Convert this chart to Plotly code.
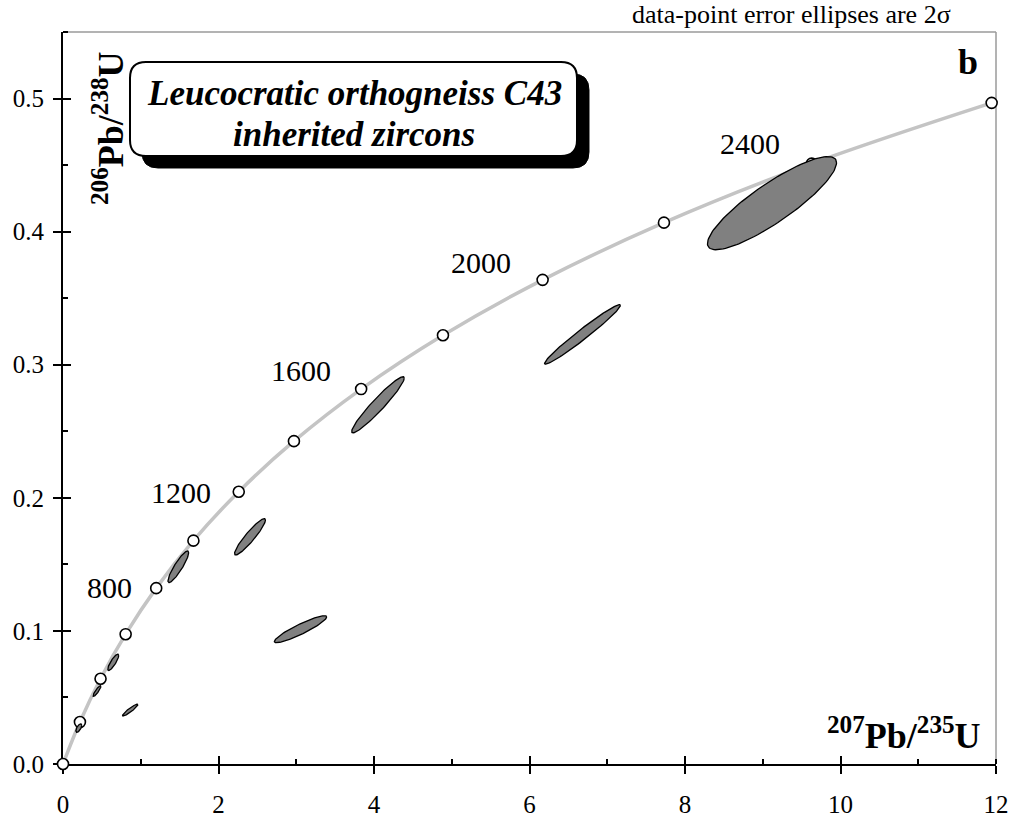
import numpy as np
import plotly.graph_objects as go

# ---------------- data ----------------
ages = [0, 200, 400, 600, 800, 1000, 1200, 1400, 1600, 1800, 2000, 2200, 2400, 2600]
pb207_u235 = [0.0, 0.2177, 0.4828, 0.8056, 1.1987, 1.6774, 2.2603, 2.9701, 3.8345,
              4.8870, 6.1686, 7.7292, 9.6296, 11.944]
pb206_u238 = [0.0, 0.03151, 0.06402, 0.09754, 0.13214, 0.16783, 0.20460, 0.24258,
              0.28172, 0.32212, 0.36376, 0.40674, 0.45108, 0.49676]
label_ages = [800, 1200, 1600, 2000, 2400]

# error ellipses (2 sigma): centre, half-widths, correlation
ell_x = [0.203, 0.437, 0.646, 0.864, 1.483, 2.405, 3.055, 4.051, 6.682, 9.119]
ell_y = [0.0270, 0.0548, 0.0764, 0.0405, 0.1482, 0.1707, 0.1013, 0.2699, 0.3228, 0.4214]
ell_sx = [0.038, 0.0505, 0.0703, 0.0987, 0.1334, 0.1992, 0.3365, 0.338, 0.488, 0.830]
ell_sy = [0.0032, 0.00404, 0.00613, 0.00442, 0.01187, 0.01367, 0.01011, 0.02107, 0.02236, 0.0350]
ell_rho = [0.65, 0.888, 0.844, 0.927, 0.892, 0.926, 0.912, 0.952, 0.977, 0.867]

# ---------------- layout geometry ----------------
W, H = 1014, 819
ML, MR, MT, MB = 63, 18, 32, 55
PW, PH = W - ML - MR, H - MT - MB
FONT = "Liberation Serif"


def px2paper(px, py):
    return (px - ML) / PW, (H - MB - py) / PH


fig = go.Figure()

# concordia curve
fig.add_trace(go.Scatter(
    x=pb207_u235, y=pb206_u238, mode="lines",
    line=dict(color="#c4c4c4", width=3.5, shape="spline", smoothing=1.0),
    hoverinfo="skip", showlegend=False, cliponaxis=False))

# age markers
fig.add_trace(go.Scatter(
    x=pb207_u235, y=pb206_u238, mode="markers",
    marker=dict(size=11, color="white", line=dict(color="black", width=1.6)),
    text=[str(a) for a in ages], hoverinfo="text",
    showlegend=False, cliponaxis=False))

# error ellipses
t = np.linspace(0, 2 * np.pi, 120)
for cx, cy, sx, sy, r in zip(ell_x, ell_y, ell_sx, ell_sy, ell_rho):
    ex = cx + sx * np.cos(t)
    ey = cy + sy * (r * np.cos(t) + np.sqrt(1 - r * r) * np.sin(t))
    fig.add_trace(go.Scatter(
        x=ex, y=ey, mode="lines", fill="toself", fillcolor="#808080",
        line=dict(color="black", width=1.3), hoverinfo="skip",
        showlegend=False))

# dummy trace on overlay axes (crossing ticks)
fig.add_trace(go.Scatter(x=[None], y=[None], xaxis="x2", yaxis="y2",
                         showlegend=False, hoverinfo="skip"))

axis_font = dict(family=FONT, size=25, color="black")
fig.update_layout(
    width=W, height=H,
    margin=dict(l=ML, r=MR, t=MT, b=MB, autoexpand=False),
    paper_bgcolor="white", plot_bgcolor="white",
    showlegend=False,
    xaxis=dict(range=[0, 12], dtick=2, tick0=0, showgrid=False, zeroline=False,
               showline=True, linecolor="black", linewidth=2,
               ticks="outside", ticklen=8, tickwidth=2, tickcolor="black",
               minor=dict(dtick=1, ticks="inside", ticklen=5, tickwidth=1.5,
                          tickcolor="black", showgrid=False),
               tickfont=axis_font, ticklabelstandoff=9, layer="below traces",
               automargin=False, fixedrange=True),
    yaxis=dict(range=[0, 0.55], dtick=0.1, tick0=0, showgrid=False, zeroline=False,
               showline=True, linecolor="black", linewidth=2,
               ticks="outside", ticklen=8, tickwidth=2, tickcolor="black",
               minor=dict(dtick=0.05, ticks="inside", ticklen=5, tickwidth=1.5,
                          tickcolor="black", showgrid=False),
               tickformat=".1f", tickfont=axis_font, ticklabelstandoff=4,
               layer="below traces", automargin=False, fixedrange=True),
    xaxis2=dict(range=[0, 12], dtick=2, tick0=0, overlaying="x", anchor="y",
                showgrid=False, zeroline=False, showline=False,
                ticks="inside", ticklen=8, tickwidth=2, tickcolor="black",
                showticklabels=False, layer="below traces", automargin=False,
                fixedrange=True),
    yaxis2=dict(range=[0, 0.55], dtick=0.1, tick0=0, overlaying="y", anchor="x",
                showgrid=False, zeroline=False, showline=False,
                ticks="inside", ticklen=8, tickwidth=2, tickcolor="black",
                showticklabels=False, layer="below traces", automargin=False,
                fixedrange=True),
)

shapes = []
# grey frame top & right
shapes.append(dict(type="line", xref="paper", yref="paper", x0=0, x1=1, y0=1, y1=1,
                   line=dict(color="#9a9a9a", width=1.5), layer="below"))
shapes.append(dict(type="line", xref="paper", yref="paper", x0=1, x1=1, y0=0, y1=1,
                   line=dict(color="#9a9a9a", width=1.5), layer="below"))


def rrect_path(x0, y0, x1, y1, r):
    pts = [("M", [(x0 + r, y0)]), ("L", [(x1 - r, y0)]), ("Q", [(x1, y0), (x1, y0 + r)]),
           ("L", [(x1, y1 - r)]), ("Q", [(x1, y1), (x1 - r, y1)]),
           ("L", [(x0 + r, y1)]), ("Q", [(x0, y1), (x0, y1 - r)]),
           ("L", [(x0, y0 + r)]), ("Q", [(x0, y0), (x0 + r, y0)])]
    s = ""
    for cmd, pp in pts:
        s += cmd + " " + " ".join("%.5f,%.5f" % px2paper(a, b) for a, b in pp) + " "
    return s + "Z"


bx0, by0, bx1, by1, rad, off = 130, 62, 577, 156, 16, 12
shapes.append(dict(type="path", xref="paper", yref="paper",
                   path=rrect_path(bx0 + off, by0 + off, bx1 + off, by1 + off, rad),
                   fillcolor="black", line=dict(color="black", width=1), layer="above"))
shapes.append(dict(type="path", xref="paper", yref="paper",
                   path=rrect_path(bx0, by0, bx1, by1, rad),
                   fillcolor="white", line=dict(color="black", width=2), layer="above"))
fig.update_layout(shapes=shapes)

annotations = []
# age labels
label_offsets = {800: (-22, 1), 1200: (-26, -1), 1600: (-28, 19), 2000: (-30, 17), 2400: (-30, 20)}
for a in label_ages:
    i = ages.index(a)
    dx, dy = label_offsets[a]
    annotations.append(dict(x=pb207_u235[i], y=pb206_u238[i], xref="x", yref="y",
                            text=str(a), showarrow=False, xanchor="right", yanchor="middle",
                            xshift=dx, yshift=dy,
                            font=dict(family=FONT, size=30, color="black")))


def ann_px(px, py, text, size, xanchor="center", yanchor="middle", angle=0):
    xp, yp = px2paper(px, py)
    annotations.append(dict(x=xp, y=yp, xref="paper", yref="paper", text=text,
                            showarrow=False, xanchor=xanchor, yanchor=yanchor,
                            textangle=angle,
                            font=dict(family=FONT, size=size, color="black")))


ann_px(354, 93, "<b><i>Leucocratic orthogneiss C43</i></b>", 35)
ann_px(354, 134, "<b><i>inherited zircons</i></b>", 35)
ann_px(791, 15, "data-point error ellipses are 2σ", 26)
ann_px(968, 62, "<b>b</b>", 36)
ann_px(983, 758, "<b><sup>207</sup>Pb/<sup>235</sup>U</b>", 36, xanchor="right", yanchor="bottom")
ann_px(108, 128, "<b><sup>206</sup>Pb/<sup>238</sup>U</b>", 36, angle=-90)
fig.update_layout(annotations=annotations)

fig.write_html("out.html")
